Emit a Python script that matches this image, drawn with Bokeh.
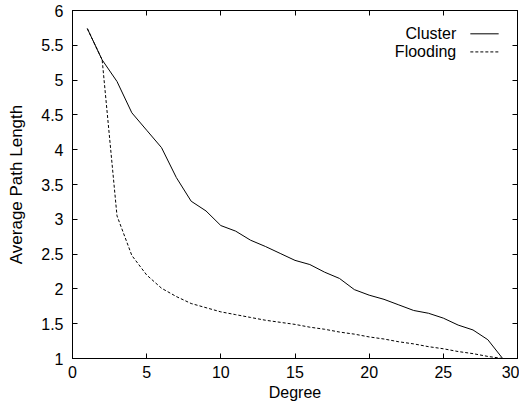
from bokeh.plotting import figure
from bokeh.models import (Range1d, FixedTicker, LinearAxis, CustomJSTickFormatter,
                          Label, Arrow)
from bokeh.embed import file_html
from bokeh.resources import INLINE

# ---- data ----
degree = list(range(1, 30))
cluster = [5.74, 5.29, 4.98, 4.53, 4.28, 4.03, 3.60, 3.26, 3.12, 2.91,
           2.83, 2.70, 2.61, 2.51, 2.41, 2.35, 2.24, 2.15, 1.99, 1.91,
           1.85, 1.77, 1.69, 1.65, 1.58, 1.48, 1.41, 1.27, 1.00]
flooding = [5.74, 5.29, 3.05, 2.48, 2.20, 2.01, 1.89, 1.79, 1.73, 1.67,
            1.63, 1.59, 1.55, 1.52, 1.49, 1.45, 1.42, 1.38, 1.35, 1.31,
            1.28, 1.24, 1.21, 1.17, 1.14, 1.10, 1.07, 1.03, 1.00]
series_names = ["Cluster", "Flooding"]
x_ticks = [0, 5, 10, 15, 20, 25, 30]
y_ticks = [1, 1.5, 2, 2.5, 3, 3.5, 4, 4.5, 5, 5.5, 6]
y_tick_labels = ["1", "1.5", "2", "2.5", "3", "3.5", "4", "4.5", "5", "5.5", "6"]

FONT = "Liberation Sans"
FS = "16px"

p = figure(width=519, height=403, output_backend="svg", toolbar_location=None,
           x_range=Range1d(0, 30), y_range=Range1d(1, 6),
           min_border_left=72, min_border_right=2, min_border_top=10,
           min_border_bottom=0, x_axis_label="Degree",
           y_axis_label="Average Path Length")

p.grid.visible = False
p.outline_line_color = "black"
p.outline_line_width = 1
p.background_fill_color = "white"
p.border_fill_color = "white"

for ax in (p.xaxis[0], p.yaxis[0]):
    ax.major_tick_in = 5
    ax.major_tick_out = 0
    ax.minor_tick_in = 0
    ax.minor_tick_out = 0
    ax.axis_line_color = "black"
    ax.major_tick_line_color = "black"
    ax.major_label_text_font = FONT
    ax.major_label_text_font_size = FS
    ax.major_label_text_color = "black"
    ax.axis_label_text_font = FONT
    ax.axis_label_text_font_size = FS
    ax.axis_label_text_font_style = "normal"
    ax.axis_label_text_color = "black"

p.yaxis[0].axis_label_text_font_size = "17px"
p.xaxis[0].ticker = FixedTicker(ticks=x_ticks)
p.yaxis[0].ticker = FixedTicker(ticks=y_ticks)
p.yaxis[0].major_label_overrides = {t: l for t, l in zip(y_ticks, y_tick_labels)}
p.xaxis[0].major_label_standoff = 7
p.xaxis[0].axis_label_standoff = 3
p.yaxis[0].major_label_standoff = 9
p.yaxis[0].axis_label_standoff = 12

blank = CustomJSTickFormatter(code="return ''")
top = LinearAxis(ticker=FixedTicker(ticks=x_ticks), formatter=blank,
                 major_tick_in=5, major_tick_out=0, minor_tick_in=0, minor_tick_out=0,
                 major_label_standoff=0)
right = LinearAxis(ticker=FixedTicker(ticks=y_ticks), formatter=blank,
                   major_tick_in=5, major_tick_out=0, minor_tick_in=0, minor_tick_out=0,
                   major_label_standoff=0)
p.add_layout(top, "above")
p.add_layout(right, "right")

p.line(degree, cluster, line_color="black", line_width=1)
p.line(degree, flooding, line_color="black", line_width=1, line_dash="3 2")

# legend (gnuplot style: text then sample)
leg_y = [5.665, 5.405]
dashes = ["solid", "3 2"]
for name, yy, dash in zip(series_names, leg_y, dashes):
    p.add_layout(Label(x=25.87, y=yy, text=name, text_align="right",
                       text_baseline="middle", text_font=FONT,
                       text_font_size=FS, text_color="black"))
    p.add_layout(Arrow(x_start=26.82, y_start=yy, x_end=28.73, y_end=yy,
                       end=None, line_color="black", line_width=1,
                       line_dash=dash))

open("out.html", "w").write(file_html(p, INLINE))
